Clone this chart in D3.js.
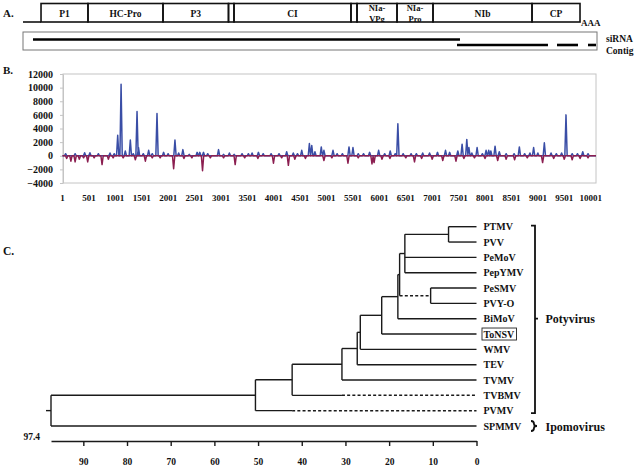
<!DOCTYPE html>
<html><head><meta charset="utf-8">
<script src="https://cdn.jsdelivr.net/npm/d3@7"></script>
<style>
body{margin:0;background:#fff}
svg{display:block}
text{font-family:"Liberation Serif","Times New Roman",serif;font-weight:bold;fill:#111}
</style>
</head><body>
<svg id="c" width="638" height="469"></svg>
<script>
// ---------- Panel A data (genome positions, nt) ----------
const geneNames = ["P1","HC-Pro","P3","","CI","","NIa-|VPg","NIa-|Pro","NIb","CP"];
const geneStarts = [314,1132,2439,3580,3676,5714,5819,6516,7143,8868];
const genomeEnd = 9704;
const sirnaSegments = [[174,7613]];
const contigSegments = [[7561,9146],[9303,9669],[9843,9983]];

// ---------- Panel B data: siRNA read peaks [position, reads] ----------
const sensePeaks = [[60,300],[240,300],[420,450],[520,450],[680,300],[900,400],[980,300],
[1046,3000],[1110,10500],[1190,700],[1285,2300],[1340,300],[1412,6500],[1440,1200],[1530,300],[1632,800],[1700,300],
[1790,6200],[1915,500],[2000,300],[2130,2300],[2200,400],[2280,900],[2400,200],[2550,500],[2600,500],[2670,500],
[2750,300],[2955,900],[3050,200],[3160,400],[3250,200],[3400,300],[3520,300],[3590,400],[3710,500],[3800,300],
[3950,300],[4100,300],[4245,600],[4370,400],[4450,300],[4530,800],[4675,1800],[4720,1500],[4780,600],[4900,1300],
[4950,800],[5122,800],[5200,300],[5300,300],[5425,1300],[5500,1200],[5600,300],[5700,300],[5815,500],[5986,800],
[6100,300],[6205,700],[6300,300],[6350,4700],[6450,300],[6600,300],[6700,300],[6820,400],[6950,400],[7100,500],
[7252,800],[7330,500],[7485,700],[7566,1700],[7655,2400],[7695,1200],[7750,400],[7850,1200],[7950,300],[8020,800],
[8070,800],[8110,700],[8190,1400],[8270,600],[8400,300],[8550,300],[8650,1300],[8750,300],[8850,400],[8920,1200],
[9000,400],[9123,1900],[9250,400],[9350,300],[9450,400],[9533,6000],[9650,300],[9750,300],[9850,600],[9950,300]];
const antisensePeaks = [[80,-400],[160,-800],[240,-900],[320,-500],[400,-300],[478,-900],[600,-300],[750,-1300],
[870,-500],[960,-300],[1150,-300],[1380,-600],[1570,-800],[1700,-300],[1850,-300],[2105,-1900],[2300,-400],
[2450,-300],[2652,-2200],[2800,-300],[3050,-300],[3270,-1300],[3450,-300],[3700,-400],[3995,-1100],[4150,-300],
[4277,-1400],[4400,-500],[4600,-400],[4950,-700],[5100,-300],[5405,-1100],[5600,-300],[5860,-1200],[5900,-1000],
[6050,-500],[6200,-400],[6500,-300],[6665,-900],[6800,-400],[7000,-500],[7200,-700],[7450,-800],[7600,-400],
[7800,-300],[8000,-400],[8240,-700],[8400,-500],[8560,-600],[8800,-300],[9090,-1000],[9300,-400],[9500,-500],
[9650,-600],[9800,-400],[9950,-300]];
const yTicksB = [-4000,-2000,0,2000,4000,6000,8000,10000,12000];
const xTicksB = [1,501,1001,1501,2001,2501,3001,3501,4001,4501,5001,5501,6001,6501,7001,7501,8001,8501,9001,9501,10001];

// ---------- Panel C data: UPGMA tree ----------
const leaves = ["PTMV","PVV","PeMoV","PepYMV","PeSMV","PVY-O","BiMoV","ToNSV","WMV","TEV","TVMV","TVBMV","PVMV","SPMMV"];
const clusters = [
  ["n1",6.4,["PTMV","PVV"]],
  ["n2",16.4,["n1","PeMoV","PepYMV"]],
  ["n3",10.5,["PeSMV","PVY-O"]],
  ["n4",17.6,["n2","n3"]],
  ["n5",18.0,["n4","BiMoV"]],
  ["n6",21.7,["n5","ToNSV"]],
  ["n7",26.6,["n6","WMV"]],
  ["n8",27.3,["n7","TEV"]],
  ["n9",30.8,["n8","TVMV"]],
  ["n10",42.2,["n9","TVBMV"]],
  ["n11",50.6,["n10","PVMV"]],
  ["root",97.4,["n11","SPMMV"]]
];
const dashedBranches = [["n3",17.6],["TVBMV",30.8],["PVMV",42.2]];
const treeTicks = [0,10,20,30,40,50,60,70,80,90];
const rootLabel = "97.4";

const svg = d3.select("#c");
const ink = "#111";

// ================= Panel A =================
const gx = d3.scaleLinear().domain([0,10000]).range([23,597]);
const gA = svg.append("g");
gA.append("text").attr("x",3).attr("y",17).attr("font-size",11).text("A.");
const boxTop = 3.5, boxBot = 22;
// leader line (5' UTR)
gA.append("line").attr("x1",gx(0)).attr("x2",gx(geneStarts[0])).attr("y1",boxBot).attr("y2",boxBot)
  .attr("stroke",ink).attr("stroke-width",1.6);
const bounds = geneStarts.concat([genomeEnd]);
geneNames.forEach((n,i)=>{
  const x0 = gx(bounds[i]), x1 = gx(bounds[i+1]);
  const cid = "clip"+i;
  gA.append("clipPath").attr("id",cid).append("rect").attr("x",x0).attr("y",boxTop).attr("width",x1-x0).attr("height",boxBot-boxTop);
  gA.append("rect").attr("x",x0).attr("y",boxTop).attr("width",x1-x0).attr("height",boxBot-boxTop)
    .attr("fill","none").attr("stroke",ink).attr("stroke-width",1.6);
  if(!n) return;
  const parts = n.split("|");
  const cx = (x0+x1)/2;
  if(parts.length===1){
    gA.append("text").attr("x",cx).attr("y",17).attr("text-anchor","middle").attr("font-size",9.5).text(parts[0]);
  } else {
    const t = gA.append("text").attr("clip-path","url(#"+cid+")").attr("text-anchor","middle").attr("font-size",8.5).attr("fill","#333");
    t.append("tspan").attr("x",cx).attr("y",10.5).text(parts[0]);
    t.append("tspan").attr("x",cx).attr("y",21.5).text(parts[1]);
  }
});
gA.append("text").attr("x",gx(genomeEnd)+1).attr("y",26).attr("font-size",9).text("AAA");
// siRNA / contig box
gA.append("rect").attr("x",gx(0)).attr("y",32).attr("width",gx(10000)-gx(0)).attr("height",18)
  .attr("fill","none").attr("stroke","#777").attr("stroke-width",1);
gA.selectAll(".sir").data(sirnaSegments).join("line")
  .attr("x1",d=>gx(d[0])).attr("x2",d=>gx(d[1])).attr("y1",39.5).attr("y2",39.5)
  .attr("stroke","#000").attr("stroke-width",2.6);
gA.selectAll(".con").data(contigSegments).join("line")
  .attr("x1",d=>gx(d[0])).attr("x2",d=>gx(d[1])).attr("y1",45).attr("y2",45)
  .attr("stroke","#000").attr("stroke-width",2.6);
gA.append("text").attr("x",606).attr("y",42).attr("font-size",9.5).text("siRNA");
gA.append("text").attr("x",606).attr("y",54).attr("font-size",9.5).text("Contig");

// ================= Panel B =================
const xB = d3.scaleLinear().domain([1,10101]).range([62.5,596]);
const yB = d3.scaleLinear().domain([-4000,12000]).range([183,74]);
const gB = svg.append("g");
gB.append("text").attr("x",3).attr("y",74).attr("font-size",11).text("B.");
gB.append("rect").attr("x",63).attr("y",74).attr("width",533).attr("height",109)
  .attr("fill","none").attr("stroke","#c4c4c4").attr("stroke-width",1);
const yAxis = gB.append("g").attr("transform","translate(63,0)")
  .call(d3.axisLeft(yB).tickValues(yTicksB).tickSize(3).tickSizeOuter(0).tickPadding(7).tickFormat(d3.format("d")));
yAxis.select(".domain").attr("stroke","#c4c4c4");
yAxis.selectAll(".tick line").attr("stroke","#c4c4c4");
yAxis.selectAll("text").attr("font-size",10).attr("font-family",null).attr("fill",ink);
gB.selectAll(".xl").data(xTicksB).join("text")
  .attr("x",d=>xB(d)).attr("y",201).attr("text-anchor","middle").attr("font-size",9).text(d=>d);
const hw = 22;
function spikes(peaks){
  const pts=[[1,0]];
  peaks.slice().sort((a,b)=>a[0]-b[0]).forEach(([p,v])=>{pts.push([p-hw,0],[p,v],[p+hw,0]);});
  pts.push([10101,0]);
  return pts;
}
const lineB = d3.line().x(d=>xB(d[0])).y(d=>yB(d[1]));
gB.append("path").attr("d",lineB(spikes(sensePeaks))).attr("fill","none")
  .attr("stroke","#3a4ea6").attr("stroke-width",1.5).attr("stroke-linejoin","round");
gB.append("path").attr("d",lineB(spikes(antisensePeaks))).attr("fill","none")
  .attr("stroke","#8b1e50").attr("stroke-width",1.5).attr("stroke-linejoin","round");

// ================= Panel C =================
const gC = svg.append("g");
gC.append("text").attr("x",3).attr("y",255).attr("font-size",11.5).text("C.");
const tx = d3.scaleLinear().domain([0,97.4]).range([476.5,51]);
const ty = d3.scalePoint().domain(leaves).range([226.7,426]);
const nodes = {};
leaves.forEach(l=>nodes[l]={id:l,h:0,y:ty(l)});
clusters.forEach(([id,h,kids])=>{
  const ks = kids.map(k=>nodes[k]);
  nodes[id] = {id,h,kids:ks,y:(ks[0].y+ks[ks.length-1].y)/2};
});
const dashMap = new Map(dashedBranches);
const treeStroke = {stroke:"#1a1a1a","stroke-width":1.4};
function seg(x1,y1,x2,y2,dashed){
  const l = gC.append("line").attr("x1",x1).attr("y1",y1).attr("x2",x2).attr("y2",y2)
    .attr("stroke","#1a1a1a").attr("stroke-width",1.4);
  if(dashed) l.attr("stroke-dasharray","3,2.2").attr("stroke-width",1.5);
}
clusters.forEach(([id])=>{
  const n = nodes[id];
  const x = tx(n.h);
  seg(x, n.kids[0].y, x, n.kids[n.kids.length-1].y, false);
  n.kids.forEach(k=>{
    if(dashMap.has(k.id)){
      const d = dashMap.get(k.id);
      if(tx(d)>x) seg(x,k.y,tx(d),k.y,false);
      seg(tx(d),k.y,tx(k.h),k.y,true);
    } else seg(x,k.y,tx(k.h),k.y,false);
  });
});
const root = nodes["root"];
seg(tx(root.h)-5, root.y, tx(root.h), root.y, false);
// leaf labels
leaves.forEach(l=>{
  const t = gC.append("text").attr("x",483.5).attr("y",ty(l)+3.5).attr("font-size",10).text(l);
  if(l==="ToNSV"){
    const b = t.node().getBBox();
    gC.append("rect").attr("x",b.x-1.5).attr("y",b.y-0.5).attr("width",b.width+3).attr("height",b.height+1)
      .attr("fill","none").attr("stroke","#222").attr("stroke-width",0.9);
  }
});
// scale axis
const tAxis = gC.append("g").attr("transform","translate(0,441)")
  .call(d3.axisBottom(tx).tickValues(treeTicks).tickSize(5).tickSizeOuter(0).tickPadding(12));
tAxis.select(".domain").attr("stroke","#1a1a1a").attr("stroke-width",1.4);
tAxis.selectAll(".tick line").attr("stroke","#1a1a1a").attr("stroke-width",1.4);
tAxis.selectAll("text").attr("font-size",9.5).attr("font-family",null).attr("fill",ink);
gC.append("text").attr("x",40).attr("y",440).attr("text-anchor","end").attr("font-size",9.5).text(rootLabel);
// group brackets
const bx = 535;
const yTop = ty("PTMV")-1, yBot = ty("PVMV")+2.5;
gC.append("path").attr("d",`M${bx-4},${yTop} H${bx} V${yBot} H${bx-4} M${bx},${ty("BiMoV")} H${bx+3}`)
  .attr("fill","none").attr("stroke","#111").attr("stroke-width",1.8);
const ys = ty("SPMMV");
gC.append("path").attr("d",`M${bx-4},${ys-5} Q${bx-1},${ys-5} ${bx-1},${ys-2} Q${bx-1},${ys} ${bx+2},${ys} Q${bx-1},${ys} ${bx-1},${ys+2} Q${bx-1},${ys+5} ${bx-4},${ys+5}`)
  .attr("fill","none").attr("stroke","#111").attr("stroke-width",1.8);
gC.append("text").attr("x",545.5).attr("y",ty("BiMoV")+4.5).attr("font-size",12).text("Potyvirus");
gC.append("text").attr("x",545.5).attr("y",ys+4.5).attr("font-size",12).text("Ipomovirus");
</script>
</body></html>
